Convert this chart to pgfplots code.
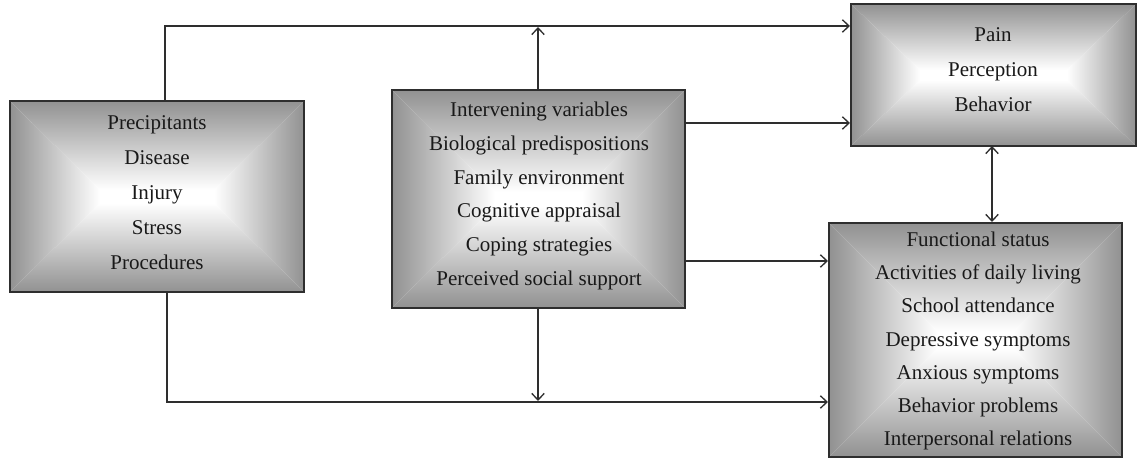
\documentclass[border=0pt]{standalone}
\usepackage{fontspec}
\setmainfont{Liberation Serif}
\usepackage{pgfplots}
\pgfplotsset{compat=1.18}
\usetikzlibrary{arrows.meta}
\definecolor{edge}{gray}{0.57}
\colorlet{midc}{edge!45!white}
\definecolor{ln}{gray}{0.18}
\definecolor{txt}{gray}{0.1}
% x1 y1 x2 y2 a1 b1 a2 b2
\newcommand\gbox[8]{%
  \addplot[draw=none, top color=edge, middle color=midc, bottom color=white] coordinates {(#1,#2) (#3,#2) (#7,#6) (#5,#6)} -- cycle;
  \addplot[draw=none, top color=white, middle color=midc, bottom color=edge] coordinates {(#1,#4) (#3,#4) (#7,#8) (#5,#8)} -- cycle;
  \addplot[draw=none, left color=edge, middle color=midc, right color=white] coordinates {(#1,#2) (#5,#6) (#5,#8) (#1,#4)} -- cycle;
  \addplot[draw=none, left color=white, middle color=midc, right color=edge] coordinates {(#3,#2) (#7,#6) (#7,#8) (#3,#4)} -- cycle;
  \addplot[draw=none, fill=white] coordinates {(#5,#6) (#7,#6) (#7,#8) (#5,#8)} -- cycle;
  \addplot[draw=ln, line width=0.8pt] coordinates {(#1,#2) (#3,#2) (#3,#4) (#1,#4)} -- cycle;
}
\begin{document}
\begin{tikzpicture}
\begin{axis}[
  width=682.2pt, height=277.8pt, scale only axis,
  xmin=0, xmax=1137, ymin=0, ymax=463, y dir=reverse,
  hide axis, clip=false,
  every axis plot/.append style={mark=none},
  arr/.style={draw=ln, line width=0.8pt, -{Straight Barb[length=4pt,width=7.5pt]}},
  arr2/.style={draw=ln, line width=0.8pt, {Straight Barb[length=4pt,width=7.5pt]}-{Straight Barb[length=4pt,width=7.5pt]}},
]
\addplot[draw=none] coordinates {(0,0) (1137,463)};
% boxes
\gbox{10}{101}{304}{292}{100}{190}{214}{203}
\gbox{392}{90}{685}{308}{495}{192}{582}{206}
\gbox{851}{4}{1136}{146}{920}{70}{1067}{80}
\gbox{829}{223}{1122}{457}{938}{332}{1013}{348}
% arrows
\addplot[arr] coordinates {(165,101) (165,26) (850,26)};
\addplot[arr] coordinates {(538,90) (538,27)};
\addplot[arr] coordinates {(685,123) (850,123)};
\addplot[arr] coordinates {(685,261) (828,261)};
\addplot[arr2] coordinates {(992,146) (992,222)};
\addplot[arr] coordinates {(538,308) (538,401)};
\addplot[arr] coordinates {(167,292) (167,402) (828,402)};
% texts
\tikzset{bt/.style={align=center, text=txt, font=\fontsize{12.6}{21}\selectfont, inner sep=0pt}}
\node[bt] at (axis cs:157,193) {Precipitants\\Disease\\Injury\\Stress\\Procedures};
\node[bt, font=\fontsize{12.6}{20.2}\selectfont] at (axis cs:539,196) {Intervening variables\\Biological predispositions\\Family environment\\Cognitive appraisal\\Coping strategies\\Perceived social support};
\node[bt] at (axis cs:993,70) {Pain\\Perception\\Behavior};
\node[bt, font=\fontsize{12.6}{19.9}\selectfont] at (axis cs:978,341) {Functional status\\Activities of daily living\\School attendance\\Depressive symptoms\\Anxious symptoms\\Behavior problems\\Interpersonal relations};
\end{axis}
\end{tikzpicture}
\end{document}
